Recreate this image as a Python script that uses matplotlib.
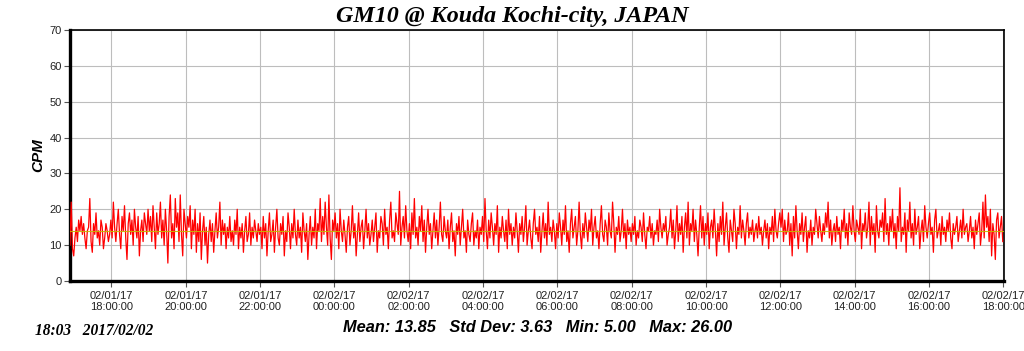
import matplotlib
matplotlib.use("Agg")
import matplotlib.pyplot as plt
import matplotlib.dates as mdates
import pandas as pd

title = "GM10 @ Kouda Kochi-city, JAPAN"
y_label = "CPM"
start_time = "2017-02-01 16:53"
sample_step = "2min"
x_start = "2017-02-01 16:53"
x_end = "2017-02-02 18:01"
tick_times = pd.date_range("2017-02-01 18:00", "2017-02-02 18:00", freq="2h")
stats_mean = 13.85
stats_std = 3.63
stats_min = 5.00
stats_max = 26.00
footer = "18:03   2017/02/02"

cpm = [
    10, 22, 9, 7, 12, 15, 11, 17, 14, 18, 13, 16, 12, 9, 14, 15, 23, 11, 8, 16, 13, 19, 12, 14, 10, 17, 15, 9, 12, 16, 14, 11, 13, 17,
    12, 22, 15, 11, 16, 20, 13, 9, 18, 14, 21, 12, 6, 16, 19, 13, 17, 10, 20, 15, 12, 18, 7, 14, 17, 11, 19, 16, 13, 20,
    14, 18, 11, 21, 15, 9, 19, 13, 16, 22, 12, 17, 10, 20, 14, 5, 18, 24, 12, 16, 9, 23, 15, 19, 11, 24, 13, 7, 20, 16,
    12, 18, 15, 21, 9, 17, 13, 20, 8, 16, 11, 19, 6, 14, 18, 10, 15, 5, 13, 17, 11, 16, 8, 14, 19, 12, 15, 22, 10, 17,
    13, 16, 9, 15, 12, 18, 11, 14, 10, 17, 13, 20, 9, 15, 12, 16, 8, 14, 18, 11, 13, 19, 10, 15, 12, 17, 14, 11, 16, 13,
    15, 9, 18, 12, 16, 7, 14, 19, 11, 13, 17, 8, 15, 20, 12, 10, 16, 13, 18, 7, 14, 11, 19, 15, 9, 16, 12, 20, 13, 10,
    17, 12, 15, 8, 19, 14, 11, 16, 6, 13, 18, 10, 15, 12, 20, 9, 16, 14, 23, 11, 18, 13, 22, 15, 10, 24, 12, 6, 17, 14,
    19, 12, 16, 9, 20, 14, 11, 17, 13, 8, 15, 18, 10, 14, 21, 12, 16, 7, 13, 19, 11, 15, 17, 9, 14, 20, 12, 16, 10, 13,
    17, 11, 15, 19, 8, 14, 12, 18, 16, 10, 20, 13, 15, 9, 17, 22, 12, 14, 11, 19, 16, 13, 25, 10, 15, 18, 12, 21, 14, 11,
    16, 9, 19, 13, 23, 12, 15, 10, 18, 14, 21, 11, 17, 8, 15, 20, 13, 16, 9, 14, 19, 12, 17, 10, 15, 22, 13, 11, 18, 14,
    12, 17, 9, 15, 19, 11, 14, 7, 16, 13, 18, 10, 15, 20, 12, 14, 8, 17, 13, 11, 16, 19, 10, 14, 12, 17, 9, 15, 13, 18,
    11, 23, 14, 9, 17, 12, 19, 15, 10, 16, 13, 21, 8, 15, 12, 18, 14, 11, 17, 9, 20, 13, 16, 10, 15, 12, 19, 14, 8, 16,
    13, 18, 11, 15, 21, 10, 14, 17, 12, 9, 16, 20, 13, 15, 11, 18, 8, 14, 19, 12, 16, 10, 22, 13, 15, 11, 17, 14, 9, 16,
    12, 19, 15, 10, 17, 13, 21, 11, 14, 8, 16, 20, 12, 15, 18, 10, 14, 22, 13, 9, 16, 12, 19, 15, 11, 17, 14, 20, 10, 15,
    18, 12, 14, 9, 16, 21, 13, 11, 17, 15, 10, 19, 14, 12, 22, 16, 8, 15, 13, 18, 11, 14, 20, 12, 16, 9, 17, 13, 15, 11,
    16, 13, 18, 10, 14, 12, 17, 15, 11, 19, 13, 9, 15, 14, 18, 12, 16, 10, 14, 13, 17, 11, 20, 15, 12, 16, 14, 18, 10, 13,
    15, 20, 12, 17, 9, 14, 21, 11, 16, 13, 18, 8, 15, 19, 12, 22, 10, 16, 14, 20, 11, 17, 13, 7, 15, 21, 12, 18, 10, 16,
    13, 19, 9, 15, 17, 12, 20, 14, 7, 16, 11, 18, 13, 22, 10, 15, 19, 12, 8, 17, 14, 11, 20, 16, 9, 15, 13, 21, 12, 17,
    14, 10, 16, 19, 12, 15, 13, 17, 11, 14, 16, 12, 18, 13, 15, 10, 14, 17, 12, 16, 9, 15, 13, 18, 11, 20, 14, 12, 16, 19,
    15, 20, 11, 17, 13, 14, 19, 10, 16, 7, 18, 12, 21, 14, 9, 16, 13, 19, 11, 15, 18, 8, 14, 12, 17, 10, 15, 13, 20, 16,
    12, 18, 14, 11, 16, 13, 19, 15, 22, 12, 17, 10, 14, 16, 11, 18, 13, 15, 9, 17, 14, 20, 12, 16, 10, 19, 15, 13, 21, 14,
    11, 17, 15, 13, 20, 9, 16, 14, 19, 12, 15, 22, 10, 18, 13, 16, 8, 21, 14, 12, 17, 15, 19, 11, 23, 13, 16, 10, 18, 14,
    20, 12, 16, 9, 18, 14, 26, 11, 15, 13, 19, 8, 17, 14, 22, 12, 16, 10, 20, 13, 15, 18, 9, 14, 17, 11, 21, 15, 12, 16,
    19, 13, 15, 8, 17, 20, 12, 14, 16, 10, 18, 13, 15, 11, 17, 14, 19, 12, 9, 16, 13, 15, 18, 11, 14, 17, 12, 20, 13, 15,
    16, 11, 14, 18, 12, 15, 9, 17, 13, 16, 19, 10, 14, 22, 12, 24, 15, 18, 11, 20, 7, 16, 13, 6, 17, 19, 12, 15, 18, 11,
]

times = pd.date_range(start_time, periods=len(cpm), freq=sample_step)

fig = plt.figure(figsize=(10.24, 3.51), dpi=100)
ax = fig.add_axes([70 / 1024, 1 - 281 / 351, (1004 - 70) / 1024, (281 - 30) / 351])

ax.plot(times, cpm, color="#ff0000", linewidth=0.9, zorder=3)
ax.axhline(stats_mean, color="#c8b400", linewidth=0.8, alpha=0.9, zorder=4)

ax.set_xlim(pd.Timestamp(x_start), pd.Timestamp(x_end))
ax.set_ylim(0, 70)
ax.set_yticks(range(0, 71, 10))
ax.set_xticks(tick_times)
ax.xaxis.set_major_formatter(mdates.DateFormatter("%m/%d/%y\n%H:%M:%S"))

ax.grid(True, color="#bdbdbd", linewidth=0.8, zorder=0)
ax.set_axisbelow(True)

for lab in ax.get_xticklabels() + ax.get_yticklabels():
    lab.set_family("Liberation Sans")
    lab.set_fontsize(8)
    lab.set_color("#222222")
ax.tick_params(axis="both", direction="out", length=4, width=0.8, color="#555555", pad=2)
ax.tick_params(axis="x", pad=3)

ax.spines["left"].set_linewidth(2.4)
ax.spines["bottom"].set_linewidth(2.4)
ax.spines["top"].set_linewidth(1.2)
ax.spines["right"].set_linewidth(1.2)

ax.set_ylabel(y_label, family="Liberation Sans", fontsize=11, fontweight="bold",
              fontstyle="italic", labelpad=3)

fig.text(0.5, 0.952, title, ha="center", va="center", family="Liberation Serif",
         fontsize=17.3, fontweight="bold", fontstyle="italic")

stats = (f"Mean: {stats_mean:.2f}   Std Dev: {stats_std:.2f}   "
         f"Min: {stats_min:.2f}   Max: {stats_max:.2f}")
fig.text(538 / 1024, 1 - 327 / 351, stats, ha="center", va="center",
         family="Liberation Sans", fontsize=11.8, fontweight="bold", fontstyle="italic")

fig.text(35 / 1024, 1 - 331 / 351, footer, ha="left", va="center",
         family="Liberation Serif", fontsize=11.2, fontweight="bold", fontstyle="italic")

fig.savefig("out.png", dpi=100)
